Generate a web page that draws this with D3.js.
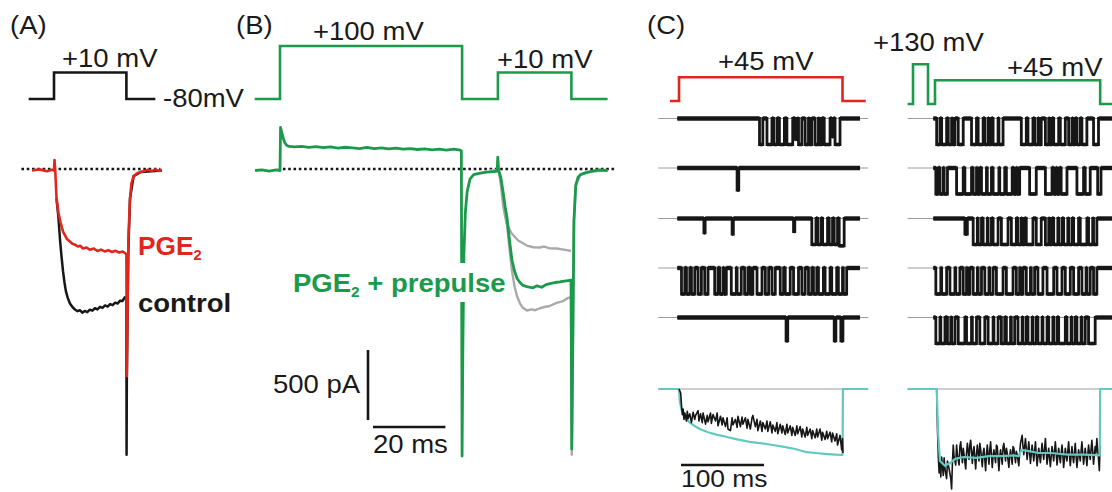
<!DOCTYPE html>
<html><head><meta charset="utf-8">
<script src="https://cdn.jsdelivr.net/npm/d3@7"></script>
<style>body{margin:0;background:#fff}svg{display:block}text{font-family:"Liberation Sans",Arial,sans-serif}</style>
</head><body><svg id="c" width="1112" height="492"></svg>
<script>
// ---------------- DATA (time in ms, voltage in mV, current in pA / normalized) -------------
// Panel A voltage protocol
const protoA = [[-7,-80],[0,-80],[0,10],[20,10],[20,-80],[28,-80]];
// Panel A currents
const aPGE2 = [[-6.1,0],[-4,8],[-2,-5],[-0.5,5],[0,0],[0.15,75],[0.35,0],[0.7,-200],[1.2,-300],[1.8,-370],[2.5,-436],[3.2,-470],[3.6,-490],[4.3,-505],[5,-521],[5.8,-530],[6.6,-543],[7.3,-538],[8,-557],[9,-550],[9.9,-566],[11,-558],[12,-575],[13,-565],[14,-578],[15,-569],[16,-582],[17,-574],[18,-586],[19,-579],[19.8,-593],[20,-600],[20.1,-1470],[20.3,-1000],[20.6,-450],[21,-200],[21.4,-90],[22,-40],[23,-20],[24,-10],[25,-3],[26,6],[27,-4],[28,8],[29,-3],[29.8,5]];
const aControl = [[0.7,-200],[1.2,-330],[1.7,-507],[2.1,-620],[2.5,-721],[2.9,-800],[3.3,-864],[3.8,-910],[4.4,-950],[5.1,-975],[5.8,-993],[6.5,-1005],[7.2,-998],[7.8,-1015],[8.5,-1003],[9.2,-1012],[9.9,-994],[10.6,-1001],[11.3,-984],[12,-992],[12.7,-974],[13.4,-982],[14.1,-964],[14.8,-972],[15.5,-954],[16.2,-962],[16.9,-944],[17.6,-950],[18.2,-930],[18.9,-932],[19.6,-905],[20,-910],[20.05,-2030],[20.12,-1500],[20.5,-600],[21,-200],[22,-40],[24,-10],[29.8,0]];
// Panel B voltage protocol
const protoB = [[-7,-80],[0,-80],[0,100],[50.3,100],[50.3,-80],[60.2,-80],[60.2,10],[80.5,10],[80.5,-80],[90.5,-80]];
// Panel B currents
const bPrepulse = [[-6.9,0],[-5,5],[-3,-5],[-1,4],[0,0],[0.15,307],[0.5,270],[0.9,230],[1.3,200],[1.8,180],[2.5,172],[4,168],[6,173],[8,165],[10,170],[12,163],[14,168],[16,160],[18,166],[20,162],[22,157],[24,165],[26,156],[28,162],[30,154],[32,160],[34,152],[36,157],[38,150],[40,155],[42,148],[44,153],[46,146],[48,152],[49.8,145],[50.1,140],[50.3,-2040],[50.5,-1300],[50.8,-600],[51.2,-300],[51.7,-150],[52.5,-60],[53.5,-30],[55,-20],[57,-12],[59,-8],[60,-5],[60.15,95],[60.4,0],[61,-50],[61.6,-150],[62.2,-260],[62.7,-336],[63.4,-500],[64.1,-643],[64.8,-720],[65.5,-771],[66.3,-800],[67.1,-821],[68.5,-832],[69.9,-838],[71,-824],[72.3,-834],[73.5,-815],[74.6,-808],[76,-800],[77.3,-796],[78.5,-790],[79.6,-786],[80.4,-783],[80.6,-1990],[80.9,-1200],[81.2,-357],[81.7,-107],[82.3,-50],[83,-29],[84.5,-15],[86,-7],[88,5],[90.5,0]];
const bGrayUpper = [[58,0],[60.4,0],[61,-100],[61.7,-264],[62.6,-379],[64,-450],[65.8,-500],[68.2,-536],[70,-548],[71.8,-550],[73,-543],[74.5,-556],[76.4,-557],[78,-563],[79.6,-571],[80.4,-575]];
const bGrayLower = [[58,0],[60.4,0],[61,-60],[61.6,-170],[62.2,-290],[62.7,-380],[63.4,-560],[64.1,-720],[64.8,-830],[65.5,-900],[66.3,-950],[67.1,-980],[68.2,-1000],[69.5,-992],[70.5,-998],[71.8,-984],[73,-975],[74.5,-968],[76.4,-945],[78,-935],[79.6,-910],[80.4,-905],[80.6,-2030],[80.9,-1200],[81.2,-357],[81.7,-107],[83,-29],[86,-7],[90.5,0]];
// Panel C voltage protocols
const protoCL = [[-11,-80],[0,-80],[0,45],[197,45],[197,-80],[225,-80]];
const protoCR = [[-33,-80],[-26.5,-80],[-26.5,130],[-8.4,130],[-8.4,-80],[0,-80],[0,45],[199,45],[199,-80],[215,-80]];
// Panel C single-channel sweeps: open intervals [start ms, end ms, relative amplitude]
const scL1 = [[97,101],[106,112],[114,118],[121,127],[130,137],[140,143,0.8],[144,148],[152,156],[157,160],[164,168],[169,172],[175,182],[184,186,0.7],[188,194]];
const scL2 = [[70,72,0.85]];
const scL3 = [[30,31.5,0.55],[64,65.5,0.6],[138,139.5,0.5],[160,165],[167,171],[173,179],[181,185],[187,191],[193,199,1.05]];
const scL4 = [[3,7],[9,13],[15,19],[23,27],[31,35],[43,47],[49,53],[54,57],[63,69],[70,75],[79,83],[86,89],[94,100],[104,108],[112,116],[122,126],[128,134],[138,144],[148,152],[156,160],[162,166],[168,174],[176,182],[184,190],[192,197],[198,202]];
const scL5 = [[129,131,0.9],[187,189,0.9],[195,197.5,0.9]];
const scR1 = [[2,6],[8,14],[16,20],[21,24],[28,34],[44,50],[52,58],[60,64],[65,68],[70,76],[77,82],[104,110],[112,118],[120,124],[125,128],[133,137],[138,141],[143,149],[151,157],[161,165],[166,169],[171,175],[177,183],[191,197]];
const scR2 = [[1,4],[6,10],[11,15],[26,34],[36,44],[46,50],[51,54],[56,62],[63,68],[70,77],[78,84],[86,93],[95,98],[99,102],[114,122],[133,141],[143,146],[147,150],[152,159],[171,179],[181,187],[196,200]];
const scR3 = [[36,39,0.6],[46,51],[52,56],[58,63],[64,68],[70,76],[80,88],[92,98],[100,104],[105,108],[110,118],[122,128],[133,137],[138,141],[143,148],[149,153],[155,160],[161,165],[167,173],[175,183],[185,190],[191,195]];
const scR4 = [[1,7],[8,14],[18,24],[25,30],[34,38],[39,42],[46,51],[52,56],[60,65],[66,70],[74,82],[86,94],[98,102],[103,106],[110,115],[116,120],[124,130],[135,143],[147,153],[157,163],[167,173],[177,182],[183,187],[191,195]];
const scR5 = [[1,6],[7,12],[15,19],[20,24],[28,36],[38,44],[45,50],[54,60],[64,70],[71,76],[80,84],[86,91],[92,96],[100,105],[106,110],[112,117],[118,122],[124,129],[130,135],[137,142],[143,147],[149,157],[159,164],[165,169],[171,176],[177,181],[185,193]];
// Panel C ensemble averages (normalized current) and fits
const ensFitL = [[-25,0],[0,0],[1,-0.15],[3,-0.26],[5,-0.3],[8,-0.36],[12,-0.41],[17,-0.45],[25,-0.5],[35,-0.54],[45,-0.57],[58,-0.6],[70,-0.63],[85,-0.66],[100,-0.68],[113,-0.7],[125,-0.72],[140,-0.75],[154,-0.79],[165,-0.8],[175,-0.81],[188,-0.82],[197,-0.825],[197.5,0],[228,0]];
const ensAvgL = [[0,0],[2,-0.05],[3,-0.2],[4,-0.32],[5,-0.25],[6,-0.38],[7,-0.3],[9,-0.4],[10,-0.28],[11,-0.37],[13,-0.31],[15,-0.42],[17,-0.29],[19,-0.38],[20,-0.33],[23,-0.27],[24,-0.4],[26,-0.31],[28,-0.42],[29,-0.3],[32,-0.44],[34,-0.33],[35,-0.41],[38,-0.3],[39,-0.43],[41,-0.32],[44,-0.4],[46,-0.3],[47,-0.46],[50,-0.34],[52,-0.45],[53,-0.36],[56,-0.47],[58,-0.36],[59,-0.5],[62,-0.52],[64,-0.36],[65,-0.45],[68,-0.38],[70,-0.48],[71,-0.34],[74,-0.47],[76,-0.35],[77,-0.44],[80,-0.36],[82,-0.49],[83,-0.38],[86,-0.5],[88,-0.36],[89,-0.33],[92,-0.47],[94,-0.38],[95,-0.52],[98,-0.4],[100,-0.53],[101,-0.42],[104,-0.5],[106,-0.4],[107,-0.53],[110,-0.41],[112,-0.55],[113,-0.45],[116,-0.53],[118,-0.42],[119,-0.56],[122,-0.44],[124,-0.55],[125,-0.46],[128,-0.57],[130,-0.44],[131,-0.55],[134,-0.46],[136,-0.58],[137,-0.48],[140,-0.58],[142,-0.46],[143,-0.56],[146,-0.47],[148,-0.6],[149,-0.5],[152,-0.6],[154,-0.48],[155,-0.58],[158,-0.5],[160,-0.62],[161,-0.52],[164,-0.61],[166,-0.5],[167,-0.6],[170,-0.5],[172,-0.64],[173,-0.54],[176,-0.63],[178,-0.53],[179,-0.62],[182,-0.54],[184,-0.66],[185,-0.55],[188,-0.65],[190,-0.56],[191,-0.7],[194,-0.58],[196,-0.76],[197,-0.62],[197.5,-0.8]];
const ensFitR = [[-33,0],[2,0],[4,-0.6],[6,-0.9],[9,-0.93],[12,-0.96],[15,-0.94],[18,-0.93],[21,-0.9],[25,-0.87],[35,-0.85],[50,-0.86],[65,-0.84],[80,-0.84],[95,-0.83],[101,-0.84],[104,-0.76],[110,-0.77],[125,-0.8],[140,-0.8],[160,-0.82],[180,-0.82],[198.5,-0.83],[199,0],[215,0]];
const ensAvgR = [[2,0],[3,-0.5],[4,-0.85],[5,-1.05],[6,-0.9],[7,-1.1],[8,-0.85],[10,-1.08],[11,-0.86],[12,-1.0],[14,-1.12],[15,-0.9],[17,-1.0],[19,-1.12],[20,-1.25],[21,-0.92],[22,-0.7],[23,-0.85],[25,-0.95],[26,-0.7],[27,-0.82],[29,-0.95],[30,-0.72],[31,-0.66],[33,-0.92],[34,-0.74],[35,-0.82],[37,-1.0],[38,-0.8],[39,-0.68],[41,-0.88],[42,-0.7],[43,-0.64],[45,-0.93],[46,-0.78],[47,-0.72],[49,-1.0],[50,-0.82],[51,-0.7],[53,-0.9],[54,-0.68],[55,-0.75],[57,-0.97],[58,-0.8],[59,-0.74],[61,-1.02],[62,-0.82],[63,-0.7],[65,-0.94],[66,-0.76],[67,-0.66],[69,-0.98],[70,-0.84],[71,-0.76],[73,-0.92],[74,-0.7],[75,-0.72],[77,-1.02],[78,-0.85],[79,-0.76],[81,-0.94],[82,-0.72],[83,-0.68],[85,-0.9],[86,-0.74],[87,-0.8],[89,-0.98],[90,-0.84],[91,-0.76],[93,-0.94],[94,-0.72],[95,-0.74],[97,-0.92],[98,-0.78],[99,-0.82],[101,-0.96],[102,-0.8],[103,-0.68],[105,-0.58],[106,-0.72],[107,-0.82],[109,-0.62],[110,-0.75],[111,-0.88],[113,-0.66],[114,-0.8],[115,-0.93],[117,-0.7],[118,-0.8],[119,-0.9],[121,-0.66],[122,-0.82],[123,-0.96],[125,-0.74],[126,-0.84],[127,-0.92],[129,-0.68],[130,-0.8],[131,-0.88],[133,-0.62],[134,-0.78],[135,-0.94],[137,-0.74],[138,-0.86],[139,-0.97],[141,-0.72],[142,-0.8],[143,-0.9],[145,-0.66],[146,-0.8],[147,-0.95],[149,-0.74],[150,-0.84],[151,-0.92],[153,-0.7],[154,-0.82],[155,-0.98],[157,-0.74],[158,-0.84],[159,-0.9],[161,-0.66],[162,-0.82],[163,-0.96],[165,-0.72],[166,-0.84],[167,-0.92],[169,-0.68],[170,-0.84],[171,-0.98],[173,-0.76],[174,-0.82],[175,-0.9],[177,-0.66],[178,-0.8],[179,-0.94],[181,-0.74],[182,-0.84],[183,-0.96],[185,-0.7],[186,-0.8],[187,-0.88],[189,-0.64],[190,-0.78],[191,-0.94],[193,-0.72],[194,-0.8],[195,-0.62],[197,-0.88],[198,-1.02],[199,-0.7]];
// Scale-bar values
const barCurrent = 500, barTimeB = 20, barTimeC = 100;

// ---------------- DRAWING ----------------
const svg = d3.select('#c');
svg.append('rect').attr('width',1112).attr('height',492).attr('fill','#fff');
const COL = {black:'#161616', red:'#e0261d', green:'#1b9a4b', gray:'#aaaaaa', cyan:'#63c8c1', thin:'#9c9c9c'};

const xA = d3.scaleLinear().domain([0,20]).range([54,126.4]);
const xB = d3.scaleLinear().domain([0,20]).range([280,352.4]);
const vAB = d3.scaleLinear().domain([-80,100]).range([99,46]);
const iAB = d3.scaleLinear().domain([0,-500]).range([170.5,240.5]);
const xCL = d3.scaleLinear().domain([0,100]).range([679,762]);
const xCR = d3.scaleLinear().domain([0,100]).range([935,1018]);
const vCL = d3.scaleLinear().domain([-80,45]).range([101,77.3]);
const vCR = d3.scaleLinear().domain([-80,45]).range([104,80.3]);
const eY = d3.scaleLinear().domain([0,-1]).range([389,469]);
const rowY = [118.5,168,218.5,268,317.5];

function trace(pts, xs, ys, color, w, dash) {
  const p = svg.append('path').datum(pts)
    .attr('d', d3.line().x(d=>xs(d[0])).y(d=>ys(d[1])))
    .attr('fill','none').attr('stroke',color).attr('stroke-width',w)
    .attr('stroke-linejoin','round');
  if (dash) p.attr('stroke-dasharray',dash);
  return p;
}
function label(x, y, str, o={}) {
  const t = svg.append('text')
    .attr('transform',`translate(${x},${y}) scale(${o.sx||1.1},1)`)
    .attr('font-size',o.size||25).attr('fill',o.color||'#1a1a1a')
    .attr('font-weight',o.bold?'bold':'normal');
  if (str !== null) t.text(str);
  return t;
}

// Panel labels
label(10,34,'(A)');
label(236,34,'(B)');
label(647,34,'(C)');

// ---- Panel A ----
trace(protoA, xA, vAB, COL.black, 2.6).attr('stroke-linejoin','miter');
label(62,67,'+10 mV');
label(163,107,'-80mV');
svg.append('line').attr('x1',xA(-9)).attr('x2',xA(29.4)).attr('y1',169).attr('y2',169)
  .attr('stroke',COL.black).attr('stroke-width',2.6).attr('stroke-dasharray','2.6,2.7');
trace(aControl, xA, iAB, COL.black, 2.5);
trace(aPGE2, xA, iAB, COL.red, 2.6);
{
  const t = label(138,255,null,{bold:true,color:COL.red,sx:1.05});
  t.append('tspan').text('PGE');
  t.append('tspan').attr('font-size',14).attr('dy',5).text('2');
}
label(138,312,'control',{bold:true});

// ---- Panel B ----
trace(protoB, xB, vAB, COL.green, 2.6).attr('stroke-linejoin','miter');
label(313,40,'+100 mV');
label(497,68,'+10 mV');
svg.append('line').attr('x1',xB(0.8)).attr('x2',xB(93)).attr('y1',169).attr('y2',169)
  .attr('stroke',COL.black).attr('stroke-width',2.6).attr('stroke-dasharray','2.6,2.7');
trace(bGrayUpper, xB, iAB, COL.gray, 2.4);
trace(bGrayLower, xB, iAB, COL.gray, 2.4);
trace(bPrepulse, xB, iAB, COL.green, 2.8);
svg.append('rect').attr('x',291).attr('y',263).attr('width',210).attr('height',39).attr('fill','#fff');
{
  const t = label(293,292,null,{bold:true,color:COL.green});
  t.append('tspan').text('PGE');
  t.append('tspan').attr('font-size',14).attr('dy',5).text('2');
  t.append('tspan').attr('dy',-5).text(' + prepulse');
}
// scale bars
const vBarLen = iAB(-barCurrent) - iAB(0);
svg.append('line').attr('x1',368).attr('x2',368).attr('y1',350).attr('y2',350+vBarLen)
  .attr('stroke',COL.black).attr('stroke-width',2.6);
label(273,393,'500 pA',{sx:1.1});
const hBarLen = xB(barTimeB) - xB(0);
svg.append('line').attr('x1',373).attr('x2',373+hBarLen).attr('y1',427).attr('y2',427)
  .attr('stroke',COL.black).attr('stroke-width',2.6);
label(373,453,'20 ms');

// ---- Panel C ----
trace(protoCL, xCL, vCL, COL.red, 2.6).attr('stroke-linejoin','miter');
trace(protoCR, xCR, vCR, COL.green, 2.6).attr('stroke-linejoin','miter');
label(718,70,'+45 mV');
label(873,51,'+130 mV');
label(1007,76,'+45 mV');

function sweepPoints(ev, t0, t1) {
  const pts = [[t0,0]];
  ev.forEach(e => { const a = -(e[2]||1); pts.push([e[0],0],[e[0],a],[e[1],a],[e[1],0]); });
  pts.push([t1,0]);
  return pts;
}
function closedSegs(ev, t0, t1) {
  const segs = []; let s = t0;
  ev.forEach(e => { segs.push([s, e[0]]); s = e[1]; });
  segs.push([s, t1]);
  return segs.filter(d => d[1] > d[0]);
}
function drawSweep(ev, xs, base, t0, t1) {
  const y = d3.scaleLinear().domain([0,-1]).range([base, base+26]);
  closedSegs(ev,t0,t1).forEach(s => {
    svg.append('line').attr('x1',xs(s[0])).attr('x2',xs(s[1])).attr('y1',y(0)).attr('y2',y(0))
      .attr('stroke',COL.black).attr('stroke-width',4.4);
  });
  ev.forEach(e => {
    svg.append('line').attr('x1',xs(e[0])).attr('x2',xs(e[1])).attr('y1',y(-(e[2]||1))).attr('y2',y(-(e[2]||1)))
      .attr('stroke',COL.black).attr('stroke-width',3.6);
  });
  trace(sweepPoints(ev,t0,t1), xs, y, COL.black, 2.8).attr('stroke-linejoin','miter');
}
const sweepsL = [scL1,scL2,scL3,scL4,scL5];
const sweepsR = [scR1,scR2,scR3,scR4,scR5];
sweepsL.forEach((ev,i) => {
  svg.append('line').attr('x1',xCL(-25)).attr('x2',xCL(228)).attr('y1',rowY[i]).attr('y2',rowY[i])
    .attr('stroke',COL.thin).attr('stroke-width',1);
  drawSweep(ev, xCL, rowY[i], -2, 218);
});
sweepsR.forEach((ev,i) => {
  svg.append('line').attr('x1',xCR(-33)).attr('x2',1112).attr('y1',rowY[i]).attr('y2',rowY[i])
    .attr('stroke',COL.thin).attr('stroke-width',1);
  drawSweep(ev, xCR, rowY[i], -2, 215);
});

// ensembles
svg.append('line').attr('x1',xCL(-25)).attr('x2',xCL(228)).attr('y1',389).attr('y2',389).attr('stroke',COL.thin).attr('stroke-width',1);
svg.append('line').attr('x1',xCR(-33)).attr('x2',1112).attr('y1',389).attr('y2',389).attr('stroke',COL.thin).attr('stroke-width',1);
trace(ensFitL, xCL, eY, COL.cyan, 2.2);
trace(ensAvgL, xCL, eY, COL.black, 1.6);
trace(ensAvgR, xCR, eY, COL.black, 1.6);
trace(ensFitR, xCR, eY, COL.cyan, 2.2);

const cBarLen = xCL(barTimeC) - xCL(0);
svg.append('line').attr('x1',681).attr('x2',681+cBarLen).attr('y1',465).attr('y2',465)
  .attr('stroke',COL.black).attr('stroke-width',2.6);
label(681,487,'100 ms',{size:24});
</script></body></html>
